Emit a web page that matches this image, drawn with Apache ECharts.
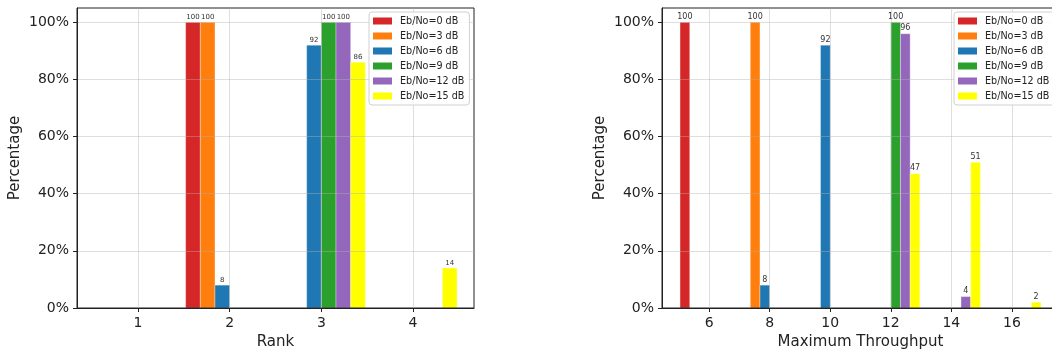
<!DOCTYPE html>
<html>
<head>
<meta charset="utf-8">
<script src="https://cdn.jsdelivr.net/npm/echarts@6/dist/echarts.min.js"></script>
<style>html,body{margin:0;padding:0;background:#fff;}#c{width:1052px;height:352px;}</style>
</head>
<body>
<div id="c"></div>
<script>
// ---------- data ----------
var seriesNames = ['Eb/No=0 dB', 'Eb/No=3 dB', 'Eb/No=6 dB', 'Eb/No=9 dB', 'Eb/No=12 dB', 'Eb/No=15 dB'];
var rankCategories = [1, 2, 3, 4];
var rank0dB  = [0, 100, 0, 0];
var rank3dB  = [0, 100, 0, 0];
var rank6dB  = [0, 8, 92, 0];
var rank9dB  = [0, 0, 100, 0];
var rank12dB = [0, 0, 100, 0];
var rank15dB = [0, 0, 86, 14];

var tputCategories = [6, 8, 10, 12, 14, 16];
var tput0dB  = [100, 0, 0, 0, 0, 0];
var tput3dB  = [0, 100, 0, 0, 0, 0];
var tput6dB  = [0, 8, 92, 0, 0, 0];
var tput9dB  = [0, 0, 0, 100, 0, 0];
var tput12dB = [0, 0, 0, 96, 4, 0];
var tput15dB = [0, 0, 0, 47, 51, 2];

var yTicks = [0, 20, 40, 60, 80, 100];
var rankTicks = [1, 2, 3, 4];
var tputTicks = [6, 8, 10, 12, 14, 16];

// ---------- styling ----------
var colors = ['#d62728', '#ff7f0e', '#1f77b4', '#2ca02c', '#9467bd', '#ffff00'];
var FONT = 'DejaVu Sans';
var rankSets = [rank0dB, rank3dB, rank6dB, rank9dB, rank12dB, rank15dB];
var tputSets = [tput0dB, tput3dB, tput6dB, tput9dB, tput12dB, tput15dB];

function makeRender(idx, barW, labelSize) {
  return function (params, api) {
    var xv = api.value(0), yv = api.value(1);
    if (!yv) return null;
    var off = (idx - 2.5) * barW;
    var p0 = api.coord([xv + off - barW / 2, yv]);
    var p1 = api.coord([xv + off + barW / 2, 0]);
    return {
      type: 'group',
      children: [
        { type: 'rect', shape: { x: p0[0], y: p0[1], width: p1[0] - p0[0], height: p1[1] - p0[1] },
          style: { fill: api.visual('color'), stroke: 'rgba(255,255,255,0.55)', lineWidth: 0.6 } },
        { type: 'text', style: { text: String(yv), x: (p0[0] + p1[0]) / 2, y: p0[1] - 1.5,
          align: 'center', verticalAlign: 'bottom', fontSize: labelSize, fontFamily: FONT, fill: '#333' } }
      ]
    };
  };
}

var series = [];
for (var i = 0; i < 6; i++) {
  series.push({
    type: 'custom', name: seriesNames[i], xAxisIndex: 0, yAxisIndex: 0, z: -1,
    itemStyle: { color: colors[i] }, encode: { x: 0, y: 1 },
    renderItem: makeRender(i, 0.16, 7),
    data: rankCategories.map(function (c, j) { return [c, rankSets[i][j]]; })
  });
  series.push({
    type: 'custom', name: seriesNames[i], xAxisIndex: 1, yAxisIndex: 1, z: -1,
    itemStyle: { color: colors[i] }, encode: { x: 0, y: 1 },
    renderItem: makeRender(i, 0.32, 8),
    data: tputCategories.map(function (c, j) { return [c, tputSets[i][j]]; })
  });
}

var gridLine = { show: true, lineStyle: { color: 'rgba(176,176,176,0.42)', width: 1 } };
function xAxis(gi, min, max, ticks, name) {
  return {
    type: 'value', gridIndex: gi, min: min, max: max,
    name: name, nameLocation: 'middle', nameGap: 26,
    nameTextStyle: { fontSize: 15, fontFamily: FONT, color: '#222' },
    axisLine: { show: true, onZero: false, lineStyle: { color: '#222', width: 1 } },
    axisTick: { show: true, inside: false, length: 4, customValues: ticks, lineStyle: { color: '#222' } },
    axisLabel: { customValues: ticks, fontSize: 14, fontFamily: FONT, color: '#222', margin: 8 },
    splitLine: gridLine
  };
}
function yAxis(gi) {
  return {
    type: 'value', gridIndex: gi, min: 0, max: 105,
    name: 'Percentage', nameLocation: 'middle', nameGap: 54,
    nameTextStyle: { fontSize: 15, fontFamily: FONT, color: '#222' },
    axisLine: { show: true, lineStyle: { color: '#222', width: 1 } },
    axisTick: { show: true, inside: false, length: 4, customValues: yTicks, lineStyle: { color: '#222' } },
    axisLabel: { customValues: yTicks, fontSize: 14, fontFamily: FONT, color: '#222', margin: 8,
      formatter: function (v) { return v + '%'; } },
    splitLine: gridLine
  };
}
function legend(left) {
  return {
    data: seriesNames, orient: 'vertical', left: left, top: 12, selectedMode: false,
    icon: 'rect', itemWidth: 19, itemHeight: 7, itemGap: 3,
    padding: [3, 5, 3, 4], borderColor: '#d0d0d0', borderWidth: 1, borderRadius: 3,
    backgroundColor: 'rgba(255,255,255,0.85)',
    itemStyle: { borderWidth: 0 },
    textStyle: { fontSize: 9.6, fontFamily: FONT, color: '#222', lineHeight: 12, padding: [0, 0, 0, 3] }
  };
}

var chart = echarts.init(document.getElementById('c'), null, { renderer: 'canvas' });
chart.setOption({
  animation: false,
  backgroundColor: '#fff',
  grid: [
    { left: 77, top: 8, width: 397, height: 300, outerBoundsMode: 'none', containLabel: false,
      show: true, borderColor: '#222', borderWidth: 1, backgroundColor: 'transparent' },
    { left: 662, top: 8, width: 397, height: 300, outerBoundsMode: 'none', containLabel: false,
      show: true, borderColor: '#222', borderWidth: 1, backgroundColor: 'transparent' }
  ],
  xAxis: [xAxis(0, 0.335, 4.665, rankTicks, 'Rank'), xAxis(1, 4.444, 17.556, tputTicks, 'Maximum Throughput')],
  yAxis: [yAxis(0), yAxis(1)],
  legend: [legend(369), legend(954)],
  series: series
});
</script>
</body>
</html>
